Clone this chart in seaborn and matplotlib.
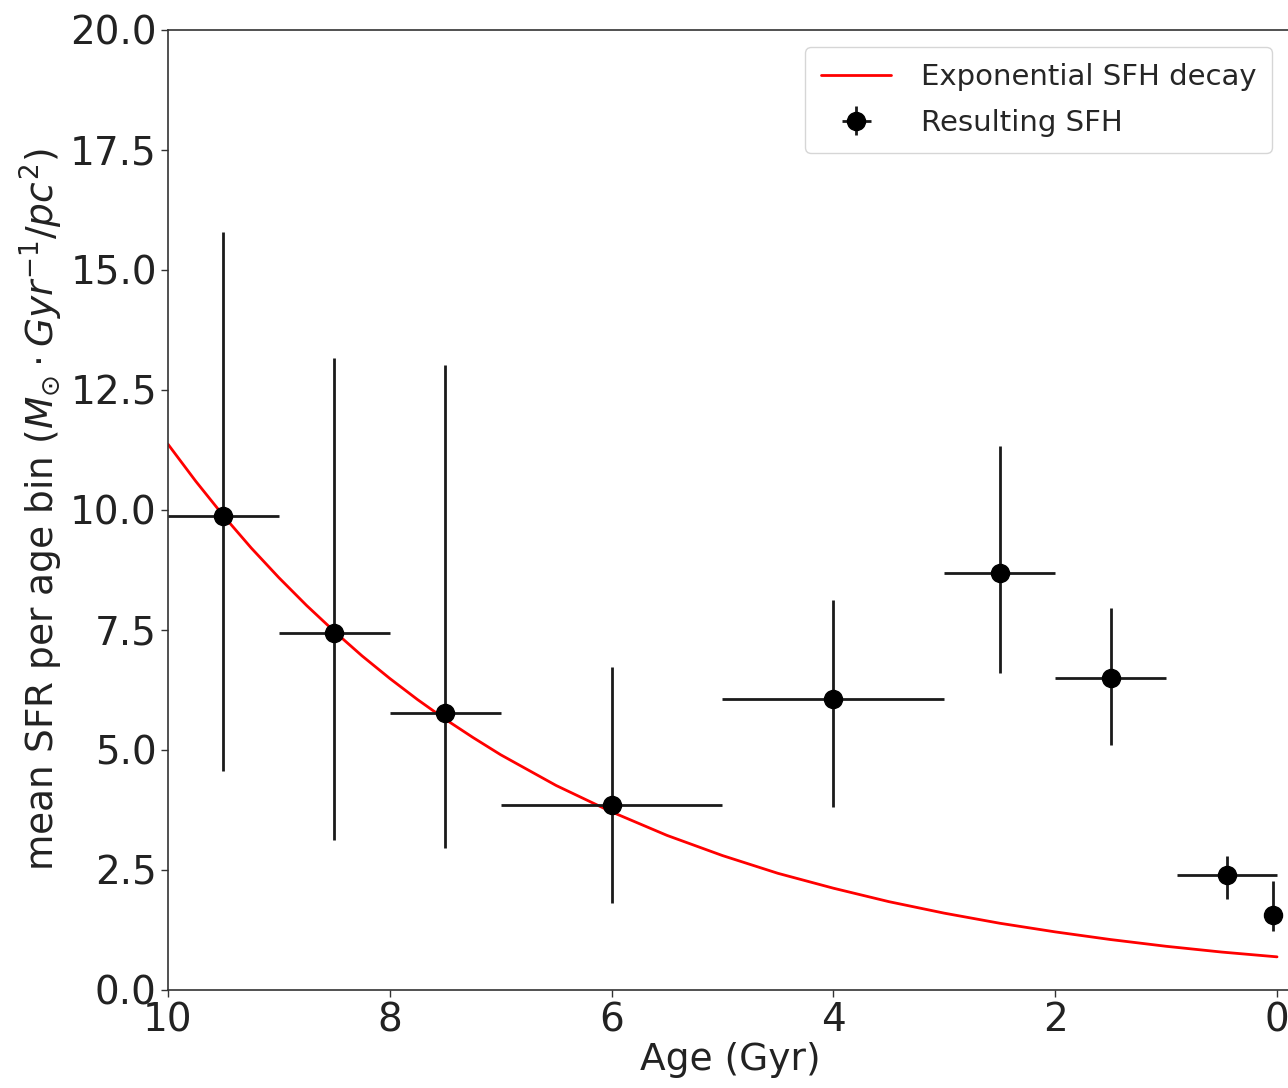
import numpy as np
import pandas as pd
import matplotlib
matplotlib.use("Agg")
import matplotlib.pyplot as plt
import seaborn as sns

# Binned star formation history (Age in Gyr)
age_centers = [9.5, 8.5, 7.5, 6.0, 4.0, 2.5, 1.5, 0.45, 0.04]
age_halfwidth = [0.5, 0.5, 0.5, 1.0, 1.0, 0.5, 0.5, 0.45, 0.0]
sfr_mean = [9.87, 7.44, 5.77, 3.85, 6.06, 8.69, 6.50, 2.40, 1.56]
sfr_upper = [15.79, 13.17, 13.02, 6.73, 8.13, 11.33, 7.96, 2.79, 2.27]
sfr_lower = [4.56, 3.13, 2.96, 1.81, 3.81, 6.60, 5.10, 1.90, 1.23]

# Exponential SFH decay curve
curve_age = [0.0, 0.5, 1.0, 1.5, 2.0, 2.5, 3.0, 3.5, 4.0, 4.5, 5.0,
             5.5, 6.0, 6.5, 7.0, 7.25, 7.5, 7.75, 8.0, 8.25, 8.5, 8.75,
             9.0, 9.25, 9.5, 9.75, 10.0]
curve_sfr = [0.69, 0.79, 0.91, 1.05, 1.21, 1.39, 1.60, 1.84, 2.12, 2.43, 2.80,
             3.22, 3.71, 4.26, 4.90, 5.26, 5.64, 6.05, 6.49, 6.96, 7.47, 8.01,
             8.59, 9.21, 9.88, 10.60, 11.37]

sns.set_style("ticks")
plt.rcParams['font.family'] = ['DejaVu Sans']

fig = plt.figure(figsize=(12.88, 10.88), dpi=100)
ax = fig.add_axes([0.1304, 0.0901, 0.874, 0.8824])

curve_df = pd.DataFrame({"age": curve_age, "sfr": curve_sfr})
sns.lineplot(data=curve_df, x="age", y="sfr", ax=ax, color="red", lw=2.0,
             label="Exponential SFH decay", zorder=2)

yerr_low = np.array(sfr_mean) - np.array(sfr_lower)
yerr_high = np.array(sfr_upper) - np.array(sfr_mean)
ax.errorbar(age_centers, sfr_mean, xerr=age_halfwidth,
            yerr=[yerr_low, yerr_high], fmt="o", color="black",
            ecolor="#1a1a1a", elinewidth=2.0, markersize=13, capsize=0,
            label="Resulting SFH", zorder=3)

ax.set_xlim(10, -0.15)
ax.set_ylim(0, 20)
ax.set_xticks([10, 8, 6, 4, 2, 0])
yt = [0, 2.5, 5, 7.5, 10, 12.5, 15, 17.5, 20]
ax.set_yticks(yt)
ax.set_yticklabels([f"{v:.1f}" for v in yt])
ax.tick_params(labelsize=28, length=5, width=1, color="#333333", labelcolor="#222222", pad=3)
for s in ax.spines.values():
    s.set_color("#333333")
    s.set_linewidth(1.2)

ax.set_xlabel("Age (Gyr)", fontsize=27, color="#222222", labelpad=2)
ax.set_ylabel(r"mean SFR per age bin ($M_{\odot} \cdot Gyr^{-1}/pc^{2}$)",
              fontsize=27, color="#222222", labelpad=4)

leg = ax.legend(loc="upper right", fontsize=21, frameon=True, fancybox=True,
                borderpad=0.55, handlelength=2.4, handletextpad=1.0,
                labelspacing=0.6, borderaxespad=0,
                bbox_to_anchor=(0.981, 0.982))
leg.get_frame().set_edgecolor("#cccccc")

fig.savefig("out.png", dpi=100)
